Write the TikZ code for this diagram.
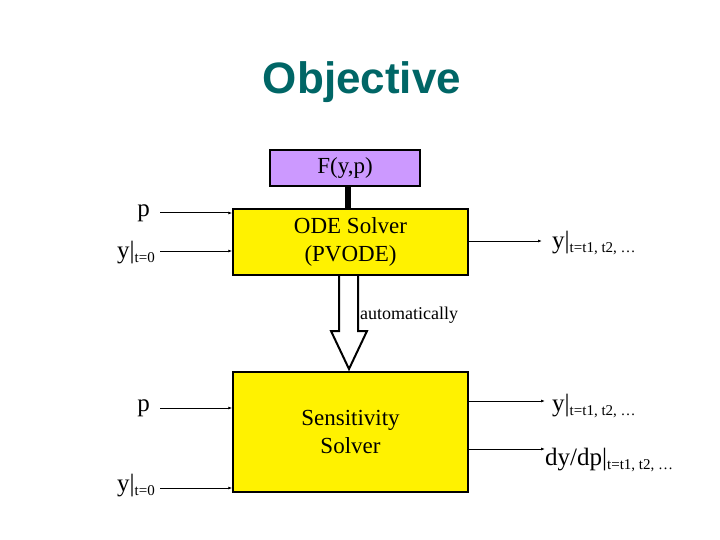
\documentclass[tikz,border=0pt]{standalone}
\usetikzlibrary{arrows.meta}
\usepackage{fontspec}
\setmainfont{Liberation Serif}
\newfontfamily\titlefont{Liberation Sans}
\definecolor{teal}{RGB}{0,102,102}
\definecolor{lilac}{RGB}{204,153,255}
\begin{document}
\begin{tikzpicture}[x=1pt,y=-1pt,
  box/.style={draw,line width=1.5pt,fill=yellow,font=\fontsize{23}{28}\selectfont,align=center,inner sep=0},
  arr/.style={-{Latex[length=4pt,width=3pt]},line width=1pt},
  lab/.style={font=\fontsize{25}{28}\selectfont,inner sep=0}]
\useasboundingbox (0,0) rectangle (720,540);
\node[font=\titlefont\bfseries\fontsize{44}{48}\selectfont,text=teal] (title) at (362,82) {Objective};
\node[box,fill=lilac,minimum width=150pt,minimum height=36pt] (F) at (345,168) {F(y,p)};
\node[box,minimum width=235pt,minimum height=66pt] (ode) at (350.5,242) {ODE Solver\\(PVODE)};
\node[box,minimum width=235pt,minimum height=120pt] (sens) at (350.5,432) {Sensitivity\\Solver};
\draw[line width=6pt] (348,186) -- (348,209);
\draw[line width=2pt,fill=white] (339,276) -- (339,331) -- (331,331) -- (349,369) -- (367,331) -- (358,331) -- (358,276);
\node[anchor=west,font=\fontsize{18}{20}\selectfont,inner sep=0] (auto) at (360,315) {automatically};
\node[lab,anchor=east] (p1) at (150,213) {p};
\node[lab,anchor=east] (y1) at (155,253) {y|\raisebox{-4pt}{\fontsize{15}{16}\selectfont t=0}};
\node[lab,anchor=east] (p2) at (150,408) {p};
\node[lab,anchor=east] (y2) at (155,486) {y|\raisebox{-4pt}{\fontsize{15}{16}\selectfont t=0}};
\coordinate (a1) at (160,213); \coordinate (a2) at (160,251);
\coordinate (a3) at (160,408); \coordinate (a4) at (160,488);
\draw[arr] (a1) -- (a1 -| ode.west);
\draw[arr] (a2) -- (a2 -| ode.west);
\draw[arr] (a3) -- (a3 -| sens.west);
\draw[arr] (a4) -- (a4 -| sens.west);
\node[lab,anchor=west] (o1) at (552,243) {y|\raisebox{-4pt}{\fontsize{15}{16}\selectfont t=t1, t2, \dots}};
\node[lab,anchor=west] (o2) at (552,406) {y|\raisebox{-4pt}{\fontsize{15}{16}\selectfont t=t1, t2, \dots}};
\node[lab,anchor=west] (o3) at (545,460) {dy/dp|\raisebox{-4pt}{\fontsize{15}{16}\selectfont t=t1, t2, \dots}};
\draw[arr] (ode.east |- 0,241) -- (542,241);
\draw[arr] (sens.east |- 0,401) -- (545,401);
\draw[arr] (sens.east |- 0,449) -- (545,449);
\end{tikzpicture}
\end{document}
